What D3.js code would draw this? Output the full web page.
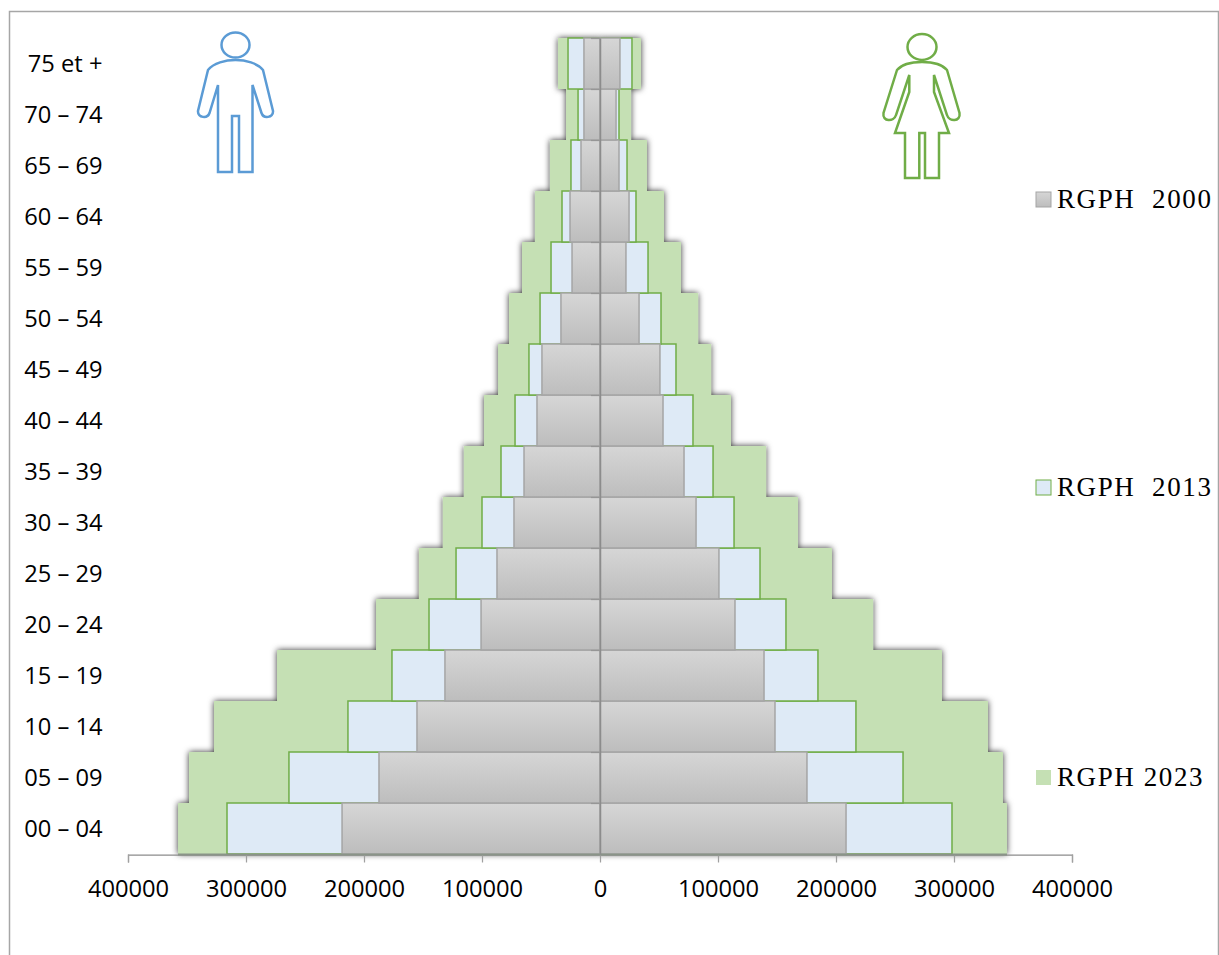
<!DOCTYPE html>
<html>
<head>
<meta charset="utf-8">
<script src="https://cdn.jsdelivr.net/npm/d3@7"></script>
<style>
html, body { margin: 0; padding: 0; background: #fff; }
svg { display: block; }
</style>
</head>
<body>
<div id="chart"></div>
<script>
var ages = ["00 – 04", "05 – 09", "10 – 14", "15 – 19", "20 – 24", "25 – 29", "30 – 34", "35 – 39",
    "40 – 44", "45 – 49", "50 – 54", "55 – 59", "60 – 64", "65 – 69", "70 – 74", "75 et +"];

// hommes (gauche)
var men2023 = [357600, 348300, 327100, 273700, 189800, 153400, 133100, 115300, 98300, 86400, 77100, 66100, 55100, 42400, 28800, 35600];
var men2013 = [316100, 263600, 213600, 176300, 144900, 122000, 100000, 83900, 72000, 60200, 50800, 41500, 32200, 24600, 18600, 27100];
var men2000 = [218600, 187300, 155100, 131400, 100800, 87300, 72900, 64400, 53400, 49200, 33100, 23700, 25400, 16100, 13600, 13600];

// femmes (droite)
var women2023 = [344900, 341500, 328800, 289800, 231400, 196600, 167800, 140700, 111000, 94100, 83100, 68600, 54200, 39800, 26300, 34700];
var women2013 = [298300, 256800, 216900, 184700, 157600, 135600, 113600, 95800, 78800, 64400, 51700, 40700, 30500, 22900, 16100, 27100];
var women2000 = [208500, 175400, 148300, 139000, 114400, 100800, 81400, 71200, 53400, 50800, 33100, 22000, 24600, 16100, 13600, 16900];

var xTicks = [-400000, -300000, -200000, -100000, 0, 100000, 200000, 300000, 400000];

var width = 1219, height = 955;
var serif = "'Liberation Serif', serif";
var sans = "'Open Sans', sans-serif";

var svg = d3.select("#chart").append("svg")
    .attr("width", width)
    .attr("height", height);

var defs = svg.append("defs");

var grad = defs.append("linearGradient")
    .attr("id", "grayBar")
    .attr("x1", 0).attr("y1", 0).attr("x2", 0).attr("y2", 1);
grad.append("stop").attr("offset", "0%").attr("stop-color", "#d6d6d6");
grad.append("stop").attr("offset", "100%").attr("stop-color", "#bdbdbd");

var shadow = defs.append("filter")
    .attr("id", "shadow")
    .attr("x", "-20%").attr("y", "-20%").attr("width", "140%").attr("height", "140%");
shadow.append("feDropShadow")
    .attr("dx", 0).attr("dy", 0)
    .attr("stdDeviation", 3)
    .attr("flood-color", "#000")
    .attr("flood-opacity", 0.8);

// cadre
svg.append("path")
    .attr("d", "M9.5,955V11.5H1218.5V955")
    .attr("fill", "none")
    .attr("stroke", "#a6a6a6")
    .attr("stroke-width", 1.5);

var x = d3.scaleLinear().domain([-400000, 400000]).range([128, 1072]);
var y = d3.scaleBand().domain(ages).range([854, 38]);

function drawBars(values, side, opts) {
    var g = svg.append("g");
    if (opts.filter) g.attr("filter", opts.filter);
    g.selectAll("rect")
        .data(values)
        .enter().append("rect")
        .attr("x", function(d) { return side < 0 ? x(-d) : x(0); })
        .attr("y", function(d, i) { return y(ages[i]); })
        .attr("width", function(d) { return x(d) - x(0); })
        .attr("height", y.bandwidth())
        .attr("fill", opts.fill)
        .attr("stroke", opts.stroke)
        .attr("stroke-width", opts.strokeWidth);
}

var style2023 = { fill: "#c5e0b4", stroke: "none", strokeWidth: 0, filter: "url(#shadow)" };
var style2013 = { fill: "#deeaf6", stroke: "#70ad47", strokeWidth: 1.5 };
var style2000 = { fill: "url(#grayBar)", stroke: "#a5a5a5", strokeWidth: 1.5 };

drawBars(men2023, -1, style2023);
drawBars(women2023, 1, style2023);
drawBars(men2013, -1, style2013);
drawBars(women2013, 1, style2013);
drawBars(men2000, -1, style2000);
drawBars(women2000, 1, style2000);

// axe horizontal
var xAxis = svg.append("g")
    .attr("transform", "translate(0,854.5)")
    .call(d3.axisBottom(x)
        .tickValues(xTicks)
        .tickSizeOuter(8)
        .tickSize(8)
        .tickPadding(17.5)
        .tickFormat(function(d) { return Math.abs(d); }));
xAxis.select(".domain").attr("stroke", "#8c8c8c").attr("stroke-width", 1.25);
xAxis.selectAll(".tick line").attr("stroke", "#a0a0a0").attr("stroke-width", 1.25);
xAxis.selectAll(".tick text")
    .attr("fill", "#000")
    .style("font-family", sans)
    .style("font-size", "23.7px");

// trait plus épais sous les barres
svg.append("line")
    .attr("x1", x(-men2023[0])).attr("x2", x(women2023[0]))
    .attr("y1", y.range()[0] + 0.5).attr("y2", y.range()[0] + 0.5)
    .attr("stroke", "#8a9488")
    .attr("stroke-width", 2);

// axe vertical au centre
var yAxis = svg.append("g")
    .attr("transform", "translate(600,0)")
    .call(d3.axisLeft(y).tickSize(0).tickPadding(0));
yAxis.select(".domain").attr("stroke", "#8c8c8c").attr("stroke-width", 1.5);
yAxis.selectAll(".tick").remove();

// petites graduations entre les classes d'âge
svg.append("g").selectAll("line")
    .data(ages)
    .enter().append("line")
    .attr("x1", x(0) - 9).attr("x2", x(0))
    .attr("y1", function(d) { return y(d) + 0.5; })
    .attr("y2", function(d) { return y(d) + 0.5; })
    .attr("stroke", "#969696")
    .attr("stroke-width", 1.25);

// libellés des âges
svg.append("g").selectAll("text")
    .data(ages)
    .enter().append("text")
    .attr("x", 102.5)
    .attr("y", function(d) { return y(d) + y.bandwidth() / 2 + 8; })
    .attr("text-anchor", "end")
    .attr("fill", "#000")
    .style("font-family", sans)
    .style("font-size", "23.7px")
    .text(function(d) { return d; });

// légende
var legendNames = ["RGPH  2000", "RGPH  2013", "RGPH 2023"];
var legendX = [1036, 1036, 1036];
var legendY = [199, 487, 777];
var legendFill = ["url(#grayBar)", "#deeaf6", "#c5e0b4"];
var legendStroke = ["#a5a5a5", "#70ad47", "none"];

var legend = svg.append("g").selectAll("g")
    .data(legendNames)
    .enter().append("g")
    .attr("transform", function(d, i) { return "translate(" + legendX[i] + "," + legendY[i] + ")"; });
legend.append("rect")
    .attr("x", 0).attr("y", -7)
    .attr("width", 15).attr("height", 15)
    .attr("fill", function(d, i) { return legendFill[i]; })
    .attr("stroke", function(d, i) { return legendStroke[i]; });
legend.append("text")
    .attr("x", 21).attr("y", 9)
    .attr("fill", "#000")
    .style("white-space", "pre")
    .style("font-family", serif)
    .style("font-size", "27px")
    .style("letter-spacing", "1.6px")
    .text(function(d) { return d; });

// pictogrammes
function person(cx, cy, rx, ry, color, body) {
    var g = svg.append("g")
        .attr("transform", "translate(" + cx + "," + cy + ")")
        .attr("fill", "none")
        .attr("stroke", color)
        .attr("stroke-width", 2.5);
    g.append("ellipse").attr("cx", 0).attr("cy", 0).attr("rx", rx).attr("ry", ry);
    g.append("path").attr("d", body);
}
person(235.5, 45, 14, 12.5, "#5b9bd5",
    "M-17.5,40V127H-3.5V71H3.5V127H17V40L26,68C28,74 38,73 37.5,66L27.5,25C22,18 10,15 0,15C-10,15 -22,18 -27.5,25L-37.5,66C-38,73 -28,74 -26,68Z");
person(922, 47, 14.5, 13, "#70ad47",
    "M-12.7,28L-26,68C-28,75 -40,75 -38.5,66L-25,23C-20,17 -10,15 0,15C10,15 20,17 25,23L37.5,66C39,75 27,75 25,68L12,28V45L27,86H17V131H3V86H-2.7V131H-17V86H-27L-12.7,45Z");
</script>
</body>
</html>
